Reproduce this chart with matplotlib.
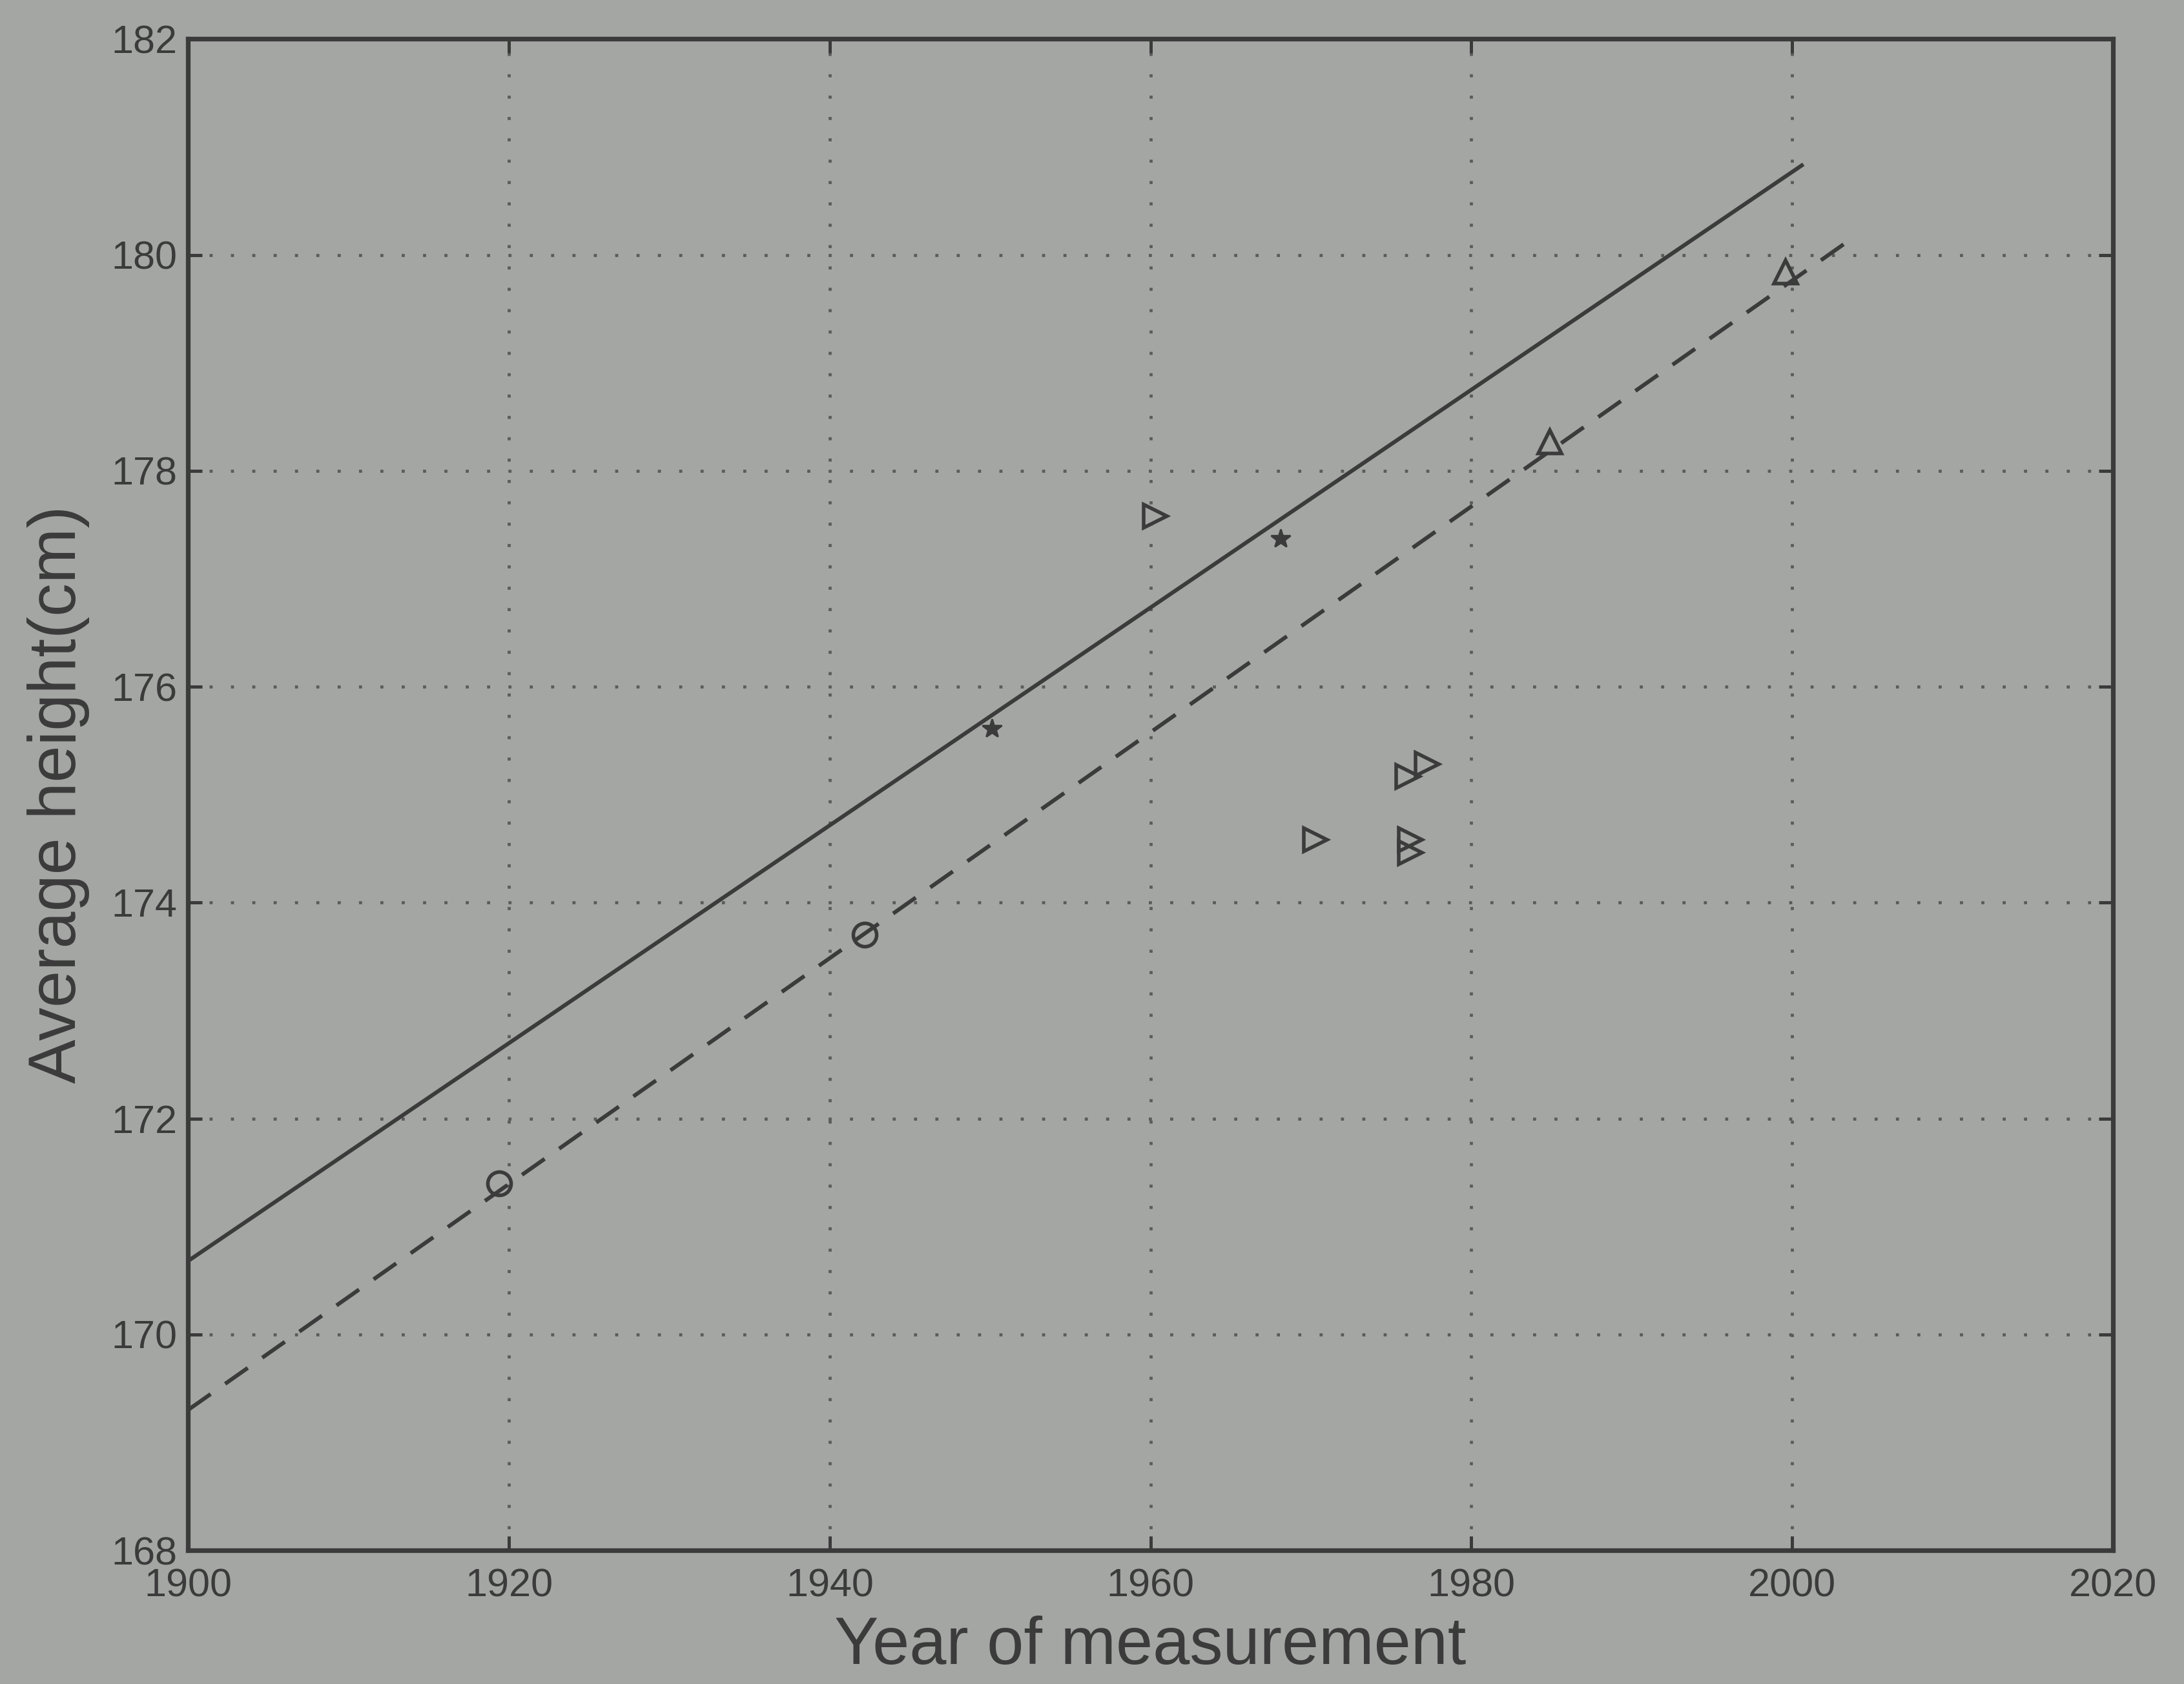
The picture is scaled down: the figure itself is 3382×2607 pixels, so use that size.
import matplotlib
matplotlib.use("Agg")
import matplotlib.pyplot as plt

# ---- data ----
circle_years = [1919.4, 1942.2]
circle_heights = [171.40, 173.70]

star_years = [1950.1, 1968.1]
star_heights = [175.61, 177.37]

right_tri_years = [1960.3, 1970.3, 1976.05, 1977.25, 1976.2, 1976.2]
right_tri_heights = [177.58, 174.58, 175.17, 175.28, 174.58, 174.46]

up_tri_years = [1984.9, 1999.6]
up_tri_heights = [178.27, 179.84]

solid_fit_years = [1900, 2000.7]
solid_fit_heights = [170.68, 180.84]

dashed_fit_years = [1900, 2003.6]
dashed_fit_heights = [169.30, 180.14]

x_ticks = [1900, 1920, 1940, 1960, 1980, 2000, 2020]
y_ticks = [168, 170, 172, 174, 176, 178, 180, 182]

BG = "#a4a6a4"
INK = "#3b3b3b"

plt.rcParams['font.family'] = ['Liberation Sans', 'DejaVu Sans']

fig = plt.figure(figsize=(16.91, 13.035), dpi=200, facecolor=BG)
ax = fig.add_axes([0.0861, 0.0794, 0.8814, 0.8974])
ax.set_facecolor(BG)

ax.plot(solid_fit_years, solid_fit_heights, color=INK, lw=2.2, solid_capstyle='butt')
ax.plot(dashed_fit_years, dashed_fit_heights, color=INK, lw=2.2,
        linestyle=(0, (7, 4.5)), dash_capstyle='butt')

mk = dict(linestyle='none', markerfacecolor='none', markeredgecolor=INK, markeredgewidth=2.0)
ax.plot(circle_years, circle_heights, marker='o', markersize=13, **mk)
ax.plot(right_tri_years, right_tri_heights, marker='>', markersize=13, **mk)
ax.plot(up_tri_years, up_tri_heights, marker='^', markersize=13, **mk)
ax.plot(star_years, star_heights, marker='*', markersize=11, linestyle='none',
        color=INK, markeredgewidth=1.0)

ax.set_xlim(1900, 2020)
ax.set_ylim(168, 182)
ax.set_xticks(x_ticks)
ax.set_yticks(y_ticks)

ax.grid(True, color="#5a5b5a", linestyle=(0, (1, 6)), linewidth=1.7)
for s in ax.spines.values():
    s.set_color(INK)
    s.set_linewidth(2.6)

ax.tick_params(direction='in', top=True, right=True, length=8, width=1.8,
               color=INK, labelcolor=INK, labelsize=22)
ax.tick_params(axis='x', pad=10)
ax.tick_params(axis='y', pad=6)

ax.set_xlabel("Year of measurement", fontsize=37, color=INK, labelpad=6)
ax.set_ylabel("Average height(cm)", fontsize=37, color=INK, labelpad=12)

fig.savefig("out.png", dpi=200, facecolor=BG)
